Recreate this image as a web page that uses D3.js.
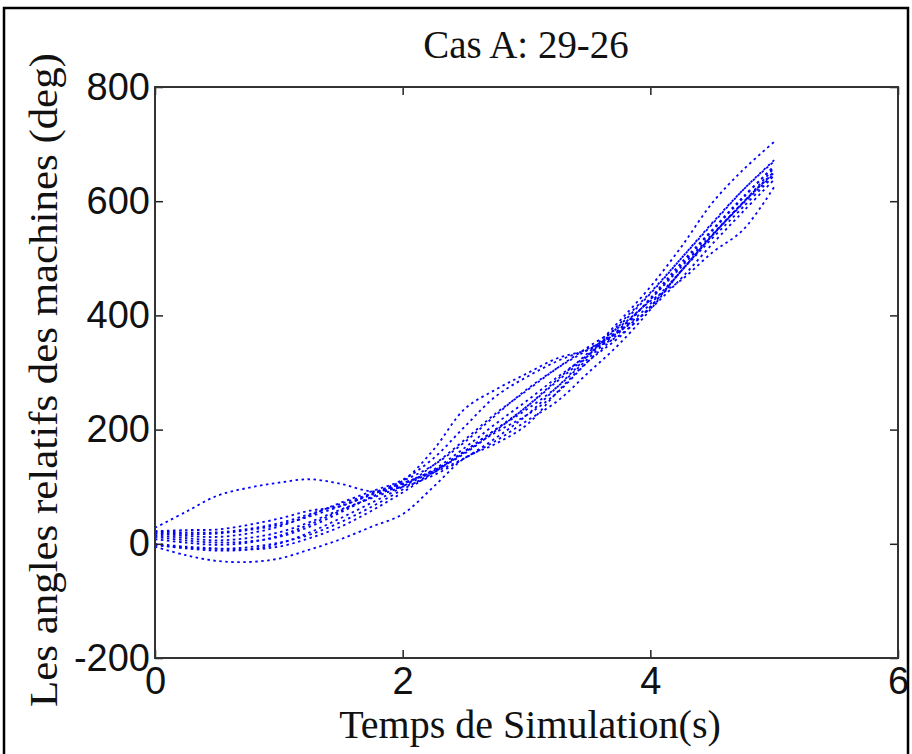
<!DOCTYPE html>
<html>
<head>
<meta charset="utf-8">
<script src="https://cdnjs.cloudflare.com/ajax/libs/d3/7.8.5/d3.min.js"></script>
<style>
  body { margin: 0; background: #fff; }
  svg { display: block; }
</style>
</head>
<body>
<div class="canvas"></div>
<script>
// temps de simulation (s)
const timeSteps = [0,0.25,0.5,0.75,1,1.25,1.5,1.75,2,2.25,2.5,2.75,3,3.25,3.5,3.75,4,4.25,4.5,4.75,5];

// angles relatifs des machines (deg)
const machine1  = [28,56,84,98,107,113,105,92,100,120,150,185,225,275,330,385,440,500,560,620,672];
const machine2  = [20,17,18,24,33,48,66,86,110,165,236,270,298,325,340,365,415,478,540,598,652];
const machine3  = [18,14,12,18,30,50,72,92,112,150,205,258,292,320,342,372,420,478,535,590,645];
const machine4  = [-5,-20,-30,-32,-26,-10,8,30,52,100,150,175,208,266,320,362,415,478,540,598,650];
const machine5  = [12,6,2,4,12,30,55,82,106,125,150,180,215,250,300,350,410,478,540,596,648];
const machine6  = [22,20,20,26,36,52,70,88,106,128,158,198,240,288,335,390,450,520,597,655,704];
const machine7  = [-2,-8,-12,-10,0,20,45,72,100,138,182,228,268,308,345,380,425,462,510,550,625];
const machine8  = [15,10,6,10,20,38,60,80,101,128,162,200,240,285,330,376,428,488,548,606,662];
const machine9  = [22,24,25,33,44,58,66,88,110,138,178,225,270,308,340,372,412,465,525,582,638];
const machine10 = [8,2,-2,2,14,34,58,82,104,130,168,210,250,292,332,382,438,500,562,620,670];
const machine11 = [-2,-7,-9,-6,2,16,38,65,95,125,160,195,225,265,320,370,430,492,550,608,660];
const machine12 = [0,-5,-8,-10,-5,10,30,58,90,125,162,200,235,275,325,375,428,485,542,598,658];

const machines = [machine1,machine2,machine3,machine4,machine5,machine6,
                  machine7,machine8,machine9,machine10,machine11,machine12];

const xTicks = [0,2,4,6];
const yTicks = [-200,0,200,400,600,800];

const W = 912, H = 754;
const plot = { left: 155, top: 87, right: 898, bottom: 658 };

const svg = d3.select('.canvas')
  .append('svg')
  .attr('width', W)
  .attr('height', H);

// cadre exterieur
svg.append('rect')
  .attr('x', 4).attr('y', 8)
  .attr('width', 904).attr('height', 760)
  .attr('fill', 'none')
  .attr('stroke', '#000')
  .attr('stroke-width', 2.5);

const x = d3.scaleLinear().domain([0, 6]).range([plot.left, plot.right]);
const y = d3.scaleLinear().domain([-200, 800]).range([plot.bottom, plot.top]);

// courbes
const line = d3.line()
  .x((d, i) => x(timeSteps[i]))
  .y(d => y(d))
  .curve(d3.curveCatmullRom);

svg.append('g')
  .selectAll('path')
  .data(machines)
  .enter()
  .append('path')
    .attr('d', line)
    .attr('fill', 'none')
    .attr('stroke', '#0000ff')
    .attr('stroke-width', 1.8)
    .attr('stroke-dasharray', '2.5,3.5');

// axes (ticks vers l'interieur, style matlab)
const tickLen = 8;
const plain = d => String(d);

const styleAxis = (g) => {
  g.select('.domain').remove();
  g.selectAll('line').attr('stroke', '#222').attr('stroke-width', 1.5);
  g.selectAll('text')
    .attr('fill', '#111')
    .style('font-family', '"Liberation Sans", Arial, sans-serif')
    .style('font-size', '38px');
};

svg.append('g')
  .attr('transform', `translate(${plot.left},0)`)
  .call(d3.axisLeft(y).tickValues(yTicks).tickSize(-tickLen).tickPadding(5).tickFormat(plain))
  .call(styleAxis);

svg.append('g')
  .attr('transform', `translate(0,${plot.bottom})`)
  .call(d3.axisBottom(x).tickValues(xTicks).tickSize(-tickLen).tickPadding(9).tickFormat(plain))
  .call(styleAxis);

svg.append('g')
  .attr('transform', `translate(${plot.right},0)`)
  .call(d3.axisRight(y).tickValues(yTicks).tickSize(-tickLen).tickFormat(''))
  .call(styleAxis);

svg.append('g')
  .attr('transform', `translate(0,${plot.top})`)
  .call(d3.axisTop(x).tickValues(xTicks).tickSize(-tickLen).tickFormat(''))
  .call(styleAxis);

// boite
svg.append('rect')
  .attr('x', plot.left).attr('y', plot.top)
  .attr('width', plot.right - plot.left)
  .attr('height', plot.bottom - plot.top)
  .attr('fill', 'none')
  .attr('stroke', '#333')
  .attr('stroke-width', 2);

// textes
const serif = '"Liberation Serif", "Times New Roman", serif';

svg.append('text')
  .attr('transform', 'translate(526,58) scale(0.95,1)')
  .attr('text-anchor', 'middle')
  .style('font-family', serif)
  .style('font-size', '41px')
  .attr('fill', '#111')
  .text('Cas A: 29-26');

svg.append('text')
  .attr('transform', 'translate(530,738)')
  .attr('text-anchor', 'middle')
  .style('font-family', serif)
  .style('font-size', '40px')
  .attr('fill', '#111')
  .text('Temps de Simulation(s)');

svg.append('text')
  .attr('transform', 'translate(57,380) rotate(-90) scale(1.1,1)')
  .attr('text-anchor', 'middle')
  .style('font-family', serif)
  .style('font-size', '39px')
  .attr('fill', '#111')
  .text('Les angles relatifs des machines (deg)');
</script>
</body>
</html>
